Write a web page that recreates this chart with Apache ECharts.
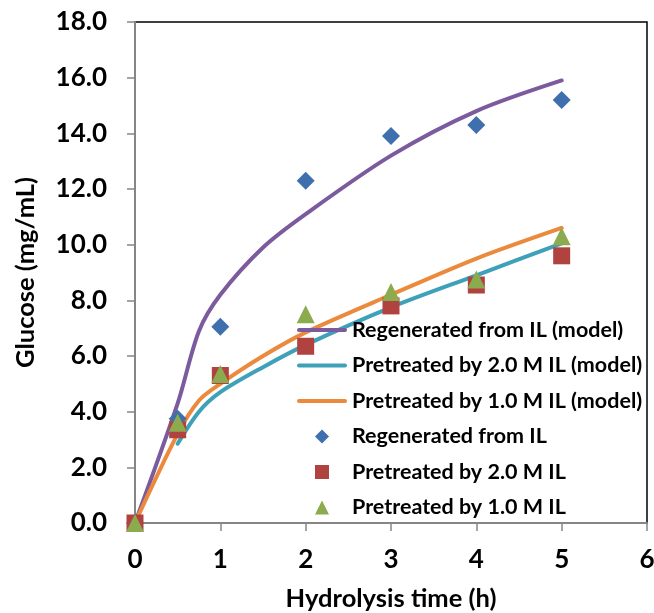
<!DOCTYPE html>
<html>
<head>
<meta charset="utf-8">
<script src="https://cdn.jsdelivr.net/npm/echarts@6/dist/echarts.min.js"></script>
<style>
  html, body { margin: 0; padding: 0; background: #fff; }
  #chart { width: 654px; height: 613px; }
</style>
</head>
<body>
<div id="chart"></div>
<script>
// measured points (h, mg/mL)
var hours = [0, 0.5, 1, 2, 3, 4, 5];
var regenData = [0, 3.75, 7.05, 12.3, 13.9, 14.3, 15.2];
var pre20Data = [0, 3.35, 5.3, 6.35, 7.8, 8.55, 9.6];
var pre10Data = [0, 3.6, 5.35, 7.5, 8.3, 8.75, 10.3];

// model curves
var regenModelT = [0, 0.5, 0.75, 1, 1.5, 2, 3, 4, 5];
var regenModel = [0, 4.3, 6.9, 8.2, 9.9, 11.1, 13.2, 14.8, 15.9];
var pre20ModelT = [0.5, 0.75, 1, 1.5, 2, 3, 4, 5];
var pre20Model = [2.85, 4.0, 4.7, 5.6, 6.4, 7.75, 8.9, 10.05];
var pre10ModelT = [0, 0.5, 0.75, 1, 1.5, 2, 3, 4, 5];
var pre10Model = [0, 3.2, 4.4, 5.0, 6.0, 6.85, 8.2, 9.5, 10.6];

var names = [
  'Regenerated from IL (model)',
  'Pretreated by 2.0 M IL (model)',
  'Pretreated by 1.0 M IL (model)',
  'Regenerated from IL',
  'Pretreated by 2.0 M IL',
  'Pretreated by 1.0 M IL'
];

var icons = [
  'path://M2,0H48A2,2 0 0 1 48,4H2A2,2 0 0 1 2,0Z',
  'path://M2,0H48A2,2 0 0 1 48,4H2A2,2 0 0 1 2,0Z',
  'path://M2,0H48A2,2 0 0 1 48,4H2A2,2 0 0 1 2,0Z',
  'path://M0,-1L1,0L0,1L-1,0Z',
  'path://M0,0H1V1H0Z',
  'path://M0,-1L1,1H-1Z'
];

function pairs(xs, ys) {
  return xs.map(function (x, i) { return [x, ys[i]]; });
}

var font = 'Lato, "Liberation Sans", sans-serif';
var chart = echarts.init(document.getElementById('chart'));

function modelLine(name, xs, ys, color) {
  return {
    name: name,
    type: 'line',
    data: pairs(xs, ys),
    smooth: 0.3,
    symbol: 'none',
    z: 2,
    lineStyle: { width: 4, color: color, cap: 'round' },
    itemStyle: { color: color }
  };
}

function points(name, ys, symbol, color, size) {
  return {
    name: name,
    type: 'scatter',
    data: pairs(hours, ys),
    symbol: symbol,
    symbolSize: size,
    z: 5,
    itemStyle: { color: color, opacity: 1 }
  };
}

var option = {
  animation: false,
  backgroundColor: '#fff',
  grid: {
    left: 135,
    right: 7,
    top: 22,
    bottom: 90,
    outerBoundsMode: 'none',
    containLabel: false,
    show: true,
    borderColor: '#000',
    borderWidth: 1.5
  },
  legend: {
    orient: 'vertical',
    left: 297,
    top: 319,
    padding: 0,
    itemWidth: 50,
    itemHeight: 14,
    itemGap: 13.5,
    symbolKeepAspect: true,
    data: names.map(function (n, i) { return { name: n, icon: icons[i] }; }),
    textStyle: { fontFamily: font, fontWeight: 'bold', fontSize: 21.5, color: '#000' }
  },
  xAxis: {
    type: 'value',
    min: 0,
    max: 6,
    interval: 1,
    name: 'Hydrolysis time (h)',
    nameLocation: 'middle',
    nameGap: 63,
    nameTextStyle: { fontFamily: font, fontWeight: 'bold', fontSize: 25.5, color: '#000' },
    axisLine: { onZero: false, lineStyle: { color: '#868686', width: 2 } },
    axisTick: { show: true, inside: false, length: 8, lineStyle: { color: '#868686', width: 1.5 } },
    axisLabel: { margin: 24, fontFamily: font, fontWeight: 'bold', fontSize: 26, color: '#000' },
    splitLine: { show: false }
  },
  yAxis: {
    type: 'value',
    min: 0,
    max: 18,
    interval: 2,
    name: 'Glucose (mg/mL)',
    nameLocation: 'middle',
    nameGap: 96,
    nameTextStyle: { fontFamily: font, fontWeight: 'bold', fontSize: 25.5, color: '#000' },
    axisLine: { onZero: false, lineStyle: { color: '#868686', width: 2 } },
    axisTick: { show: true, inside: false, length: 8, lineStyle: { color: '#868686', width: 1.5 } },
    axisLabel: {
      margin: 28,
      fontFamily: font,
      fontWeight: 'bold',
      fontSize: 26,
      color: '#000',
      formatter: function (v) { return v.toFixed(1); }
    },
    splitLine: { show: false }
  },
  series: [
    modelLine(names[0], regenModelT, regenModel, '#7B5A9E'),
    modelLine(names[1], pre20ModelT, pre20Model, '#3FA0BA'),
    modelLine(names[2], pre10ModelT, pre10Model, '#EB8A3C'),
    points(names[3], regenData, 'diamond', '#3F70AD', 18),
    points(names[4], pre20Data, 'rect', '#B0433F', 17),
    points(names[5], pre10Data, 'triangle', '#8CAA4E', 18)
  ]
};

chart.setOption(option);
</script>
</body>
</html>
